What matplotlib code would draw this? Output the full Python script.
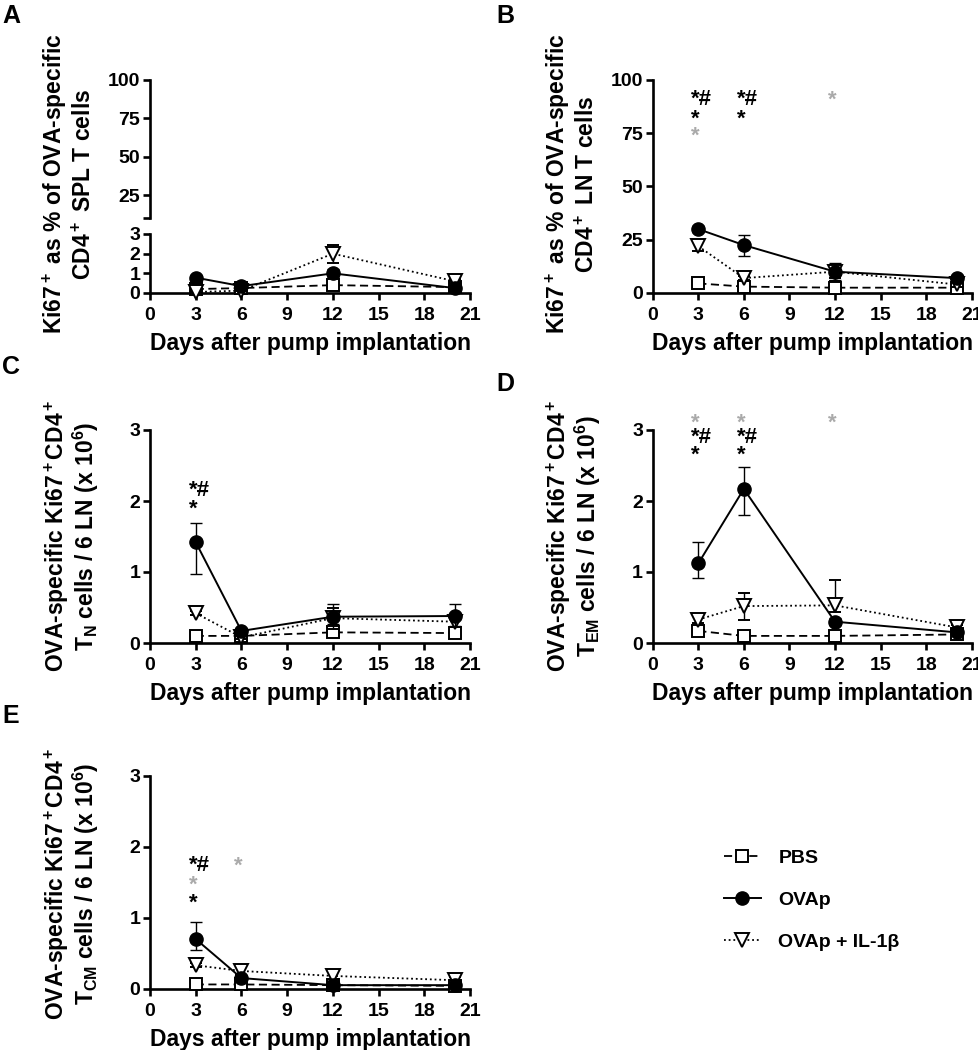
import matplotlib
matplotlib.use("Agg")
import matplotlib.pyplot as plt
from matplotlib.lines import Line2D

plt.rcParams['font.family'] = ['Liberation Sans', 'DejaVu Sans']
plt.rcParams['font.weight'] = 'bold'
plt.rcParams['mathtext.fontset'] = 'custom'
plt.rcParams['mathtext.rm'] = 'Liberation Sans:bold'
plt.rcParams['mathtext.it'] = 'Liberation Sans:bold'
plt.rcParams['mathtext.bf'] = 'Liberation Sans:bold'
plt.rcParams['mathtext.default'] = 'rm'

# ---------------- data ----------------
days = [3, 6, 12, 20]
xticks = [0, 3, 6, 9, 12, 15, 18, 21]
series_names = ['PBS', 'OVAp', 'OVAp + IL-1β']

# Panel A (% Ki67+ SPL)
A_pbs = [0.2, 0.25, 0.4, 0.3]
A_pbs_err = [[0.05, 0.05, 0.1, 0.05], [0.05, 0.05, 0.1, 0.05]]
A_ova = [0.78, 0.35, 1.0, 0.25]
A_ova_err = [[0.1, 0.05, 0.2, 0.05], [0.1, 0.05, 0.2, 0.05]]
A_il = [0.05, 0.12, 2.0, 0.6]
A_il_err = [[0.03, 0.03, 0.45, 0.1], [0.03, 0.03, 0.45, 0.1]]

# Panel B (% Ki67+ LN)
B_pbs = [4.5, 3.0, 2.5, 2.5]
B_pbs_err = [[1, 0.5, 3, 0.5], [1, 0.5, 3, 0.5]]
B_ova = [30, 22.5, 10, 7]
B_ova_err = [[1.5, 5, 4, 1], [1.5, 4.5, 4, 1]]
B_il = [22, 7, 10, 4]
B_il_err = [[2.5, 1, 3, 1], [2.5, 1, 3, 1]]
B_sig = [(3, 92, '*#', 'k'), (3, 83, '*', 'k'), (3, 75, '*', 'grey'),
         (6, 92, '*#', 'k'), (6, 83, '*', 'k'), (12, 92, '*', 'grey')]

# Panel C (TN cells)
C_pbs = [0.1, 0.1, 0.15, 0.14]
C_pbs_err = [[0.02, 0.02, 0.03, 0.03], [0.02, 0.02, 0.03, 0.03]]
C_ova = [1.42, 0.17, 0.37, 0.38]
C_ova_err = [[0.45, 0.03, 0.1, 0.14], [0.27, 0.03, 0.18, 0.17]]
C_il = [0.42, 0.08, 0.35, 0.3]
C_il_err = [[0.03, 0.02, 0.15, 0.08], [0.03, 0.02, 0.15, 0.08]]
C_sig = [(3, 2.19, '*#', 'k'), (3, 1.92, '*', 'k')]

# Panel D (TEM cells)
D_pbs = [0.17, 0.1, 0.1, 0.12]
D_pbs_err = [[0.05, 0.02, 0.03, 0.02], [0.05, 0.02, 0.03, 0.02]]
D_ova = [1.12, 2.17, 0.3, 0.15]
D_ova_err = [[0.21, 0.37, 0.05, 0.03], [0.3, 0.31, 0.05, 0.03]]
D_il = [0.33, 0.52, 0.53, 0.22]
D_il_err = [[0.05, 0.19, 0.1, 0.03], [0.05, 0.19, 0.36, 0.03]]
D_sig = [(3, 3.14, '*', 'grey'), (3, 2.93, '*#', 'k'), (3, 2.68, '*', 'k'),
         (6, 3.14, '*', 'grey'), (6, 2.93, '*#', 'k'), (6, 2.68, '*', 'k'),
         (12, 3.14, '*', 'grey')]

# Panel E (TCM cells)
E_pbs = [0.06, 0.06, 0.05, 0.04]
E_pbs_err = [[0.01, 0.01, 0.01, 0.01], [0.01, 0.01, 0.01, 0.01]]
E_ova = [0.7, 0.15, 0.05, 0.05]
E_ova_err = [[0.15, 0.03, 0.02, 0.02], [0.24, 0.03, 0.02, 0.02]]
E_il = [0.33, 0.25, 0.18, 0.12]
E_il_err = [[0.03, 0.05, 0.05, 0.05], [0.03, 0.05, 0.05, 0.05]]
E_sig = [(3, 1.77, '*#', 'k'), (3, 1.5, '*', 'grey'), (3, 1.24, '*', 'k'),
         (6, 1.77, '*', 'grey')]

# ---------------- style ----------------
GREY = '#aaaaaa'
SPW = 1.9
TICK_FS = 14
LAB_FS = 16.5
W, H = 979, 1050

fig = plt.figure(figsize=(W / 100, H / 100), dpi=100)


def rect(l, t, r, b):
    return [l / W, 1 - b / H, (r - l) / W, (b - t) / H]


def style(ax, bottom=True):
    for s in ['top', 'right']:
        ax.spines[s].set_visible(False)
    ax.spines['left'].set_linewidth(SPW)
    ax.spines['bottom'].set_linewidth(SPW)
    ax.tick_params(direction='out', length=5, width=SPW, labelsize=TICK_FS, pad=2)
    ax.tick_params(axis='x', pad=5)
    for lab in ax.get_xticklabels() + ax.get_yticklabels():
        lab.set_fontweight('bold')
    ax.set_xlim(0, 21)
    ax.set_xticks(xticks)
    if not bottom:
        ax.spines['bottom'].set_visible(False)
        ax.tick_params(axis='x', which='both', bottom=False, labelbottom=False)


def plot_series(ax, pbs, pbs_err, ova, ova_err, il, il_err):
    ax.errorbar(days, pbs, yerr=pbs_err, color='k', lw=1.3, ls=(0, (4.5, 2.5)),
                marker='s', ms=8.5, mfc='white', mec='k', mew=1.4,
                ecolor='k', elinewidth=1.0, capsize=4.5, capthick=1.0,
                clip_on=False, zorder=3)
    ax.errorbar(days, il, yerr=il_err, color='k', lw=1.3, ls=(0, (1, 1.6)),
                marker='v', ms=10, mfc='white', mec='k', mew=1.4,
                ecolor='k', elinewidth=1.0, capsize=4.5, capthick=1.0,
                clip_on=False, zorder=4)
    ax.errorbar(days, ova, yerr=ova_err, color='k', lw=1.4, ls='-',
                marker='o', ms=9.5, mfc='k', mec='k',
                ecolor='k', elinewidth=1.0, capsize=4.5, capthick=1.0,
                clip_on=False, zorder=5)


def sig(ax, items):
    for x, y, txt, col in items:
        c = GREY if col == 'grey' else 'k'
        ax.annotate(txt, xy=(x, y), xytext=(-5, -2), textcoords='offset points',
                    ha='left', va='center', fontsize=16, fontweight='bold',
                    color=c, annotation_clip=False)


def xlabel(ax):
    ax.set_xlabel('Days after pump implantation', fontsize=LAB_FS,
                  fontweight='bold', labelpad=6)


# Panel A: broken y axis
axAu = fig.add_axes(rect(150, 80, 470, 218))
axAl = fig.add_axes(rect(150, 234, 470, 293))
style(axAu, bottom=False)
style(axAl)
axAu.set_ylim(10, 100)
axAu.set_yticks([10, 25, 50, 75, 100])
axAu.set_yticklabels(['', '25', '50', '75', '100'])
axAl.set_ylim(0, 3)
axAl.set_yticks([0, 1, 2, 3])
plot_series(axAl, A_pbs, A_pbs_err, A_ova, A_ova_err, A_il, A_il_err)
xlabel(axAl)
fig.text(96 / W, 1 - 184 / H,
         'Ki67$^+$ as % of OVA-specific\nCD4$^+$ SPL T cells',
         rotation=90, ha='right', va='center', multialignment='center',
         fontsize=LAB_FS, fontweight='bold', linespacing=1.2)

# Panel B
axB = fig.add_axes(rect(652.7, 80, 971.7, 293))
style(axB)
axB.set_ylim(0, 100)
axB.set_yticks([0, 25, 50, 75, 100])
plot_series(axB, B_pbs, B_pbs_err, B_ova, B_ova_err, B_il, B_il_err)
sig(axB, B_sig)
xlabel(axB)
fig.text(599 / W, 1 - 184 / H,
         'Ki67$^+$ as % of OVA-specific\nCD4$^+$ LN T cells',
         rotation=90, ha='right', va='center', multialignment='center',
         fontsize=LAB_FS, fontweight='bold', linespacing=1.2)

# Panel C
axC = fig.add_axes(rect(150, 430, 470, 643))
style(axC)
axC.set_ylim(0, 3)
axC.set_yticks([0, 1, 2, 3])
plot_series(axC, C_pbs, C_pbs_err, C_ova, C_ova_err, C_il, C_il_err)
sig(axC, C_sig)
xlabel(axC)
fig.text(101 / W, 1 - 536 / H,
         'OVA-specific Ki67$^+$CD4$^+$\nT$_{\\mathrm{N}}$ cells / 6 LN (x 10$^6$)',
         rotation=90, ha='right', va='center', multialignment='center',
         fontsize=LAB_FS, fontweight='bold', linespacing=1.0)

# Panel D
axD = fig.add_axes(rect(652.7, 430, 971.7, 643))
style(axD)
axD.set_ylim(0, 3)
axD.set_yticks([0, 1, 2, 3])
plot_series(axD, D_pbs, D_pbs_err, D_ova, D_ova_err, D_il, D_il_err)
sig(axD, D_sig)
xlabel(axD)
fig.text(603 / W, 1 - 536 / H,
         'OVA-specific Ki67$^+$CD4$^+$\nT$_{\\mathrm{EM}}$ cells / 6 LN (x 10$^6$)',
         rotation=90, ha='right', va='center', multialignment='center',
         fontsize=LAB_FS, fontweight='bold', linespacing=1.0)

# Panel E
axE = fig.add_axes(rect(150, 776, 470, 988.7))
style(axE)
axE.set_ylim(0, 3)
axE.set_yticks([0, 1, 2, 3])
plot_series(axE, E_pbs, E_pbs_err, E_ova, E_ova_err, E_il, E_il_err)
sig(axE, E_sig)
xlabel(axE)
fig.text(101 / W, 1 - 884 / H,
         'OVA-specific Ki67$^+$CD4$^+$\nT$_{\\mathrm{CM}}$ cells / 6 LN (x 10$^6$)',
         rotation=90, ha='right', va='center', multialignment='center',
         fontsize=LAB_FS, fontweight='bold', linespacing=1.0)

# Panel letters
for lx, ly, letter in [(2, 4, 'A'), (496, 4, 'B'), (2, 355, 'C'), (496, 372, 'D'), (2, 704, 'E')]:
    fig.text(lx / W, 1 - ly / H, letter, ha='left', va='top', fontsize=18, fontweight='bold')

# Legend
handles = [
    Line2D([], [], color='k', lw=1.3, ls=(0, (4.5, 2.5)), marker='s', ms=8.5,
           mfc='white', mec='k', mew=1.4),
    Line2D([], [], color='k', lw=1.4, ls='-', marker='o', ms=9.5, mfc='k', mec='k'),
    Line2D([], [], color='k', lw=1.3, ls=(0, (1, 1.6)), marker='v', ms=10,
           mfc='white', mec='k', mew=1.4),
]
fig.legend(handles, series_names, loc='center left',
           bbox_to_anchor=(724 / W, 1 - 900 / H), frameon=False,
           handlelength=1.9, handletextpad=0.9, labelspacing=1.25,
           borderpad=0, borderaxespad=0,
           prop={'size': 14, 'weight': 'bold'})

fig.savefig('out.png', dpi=100)
